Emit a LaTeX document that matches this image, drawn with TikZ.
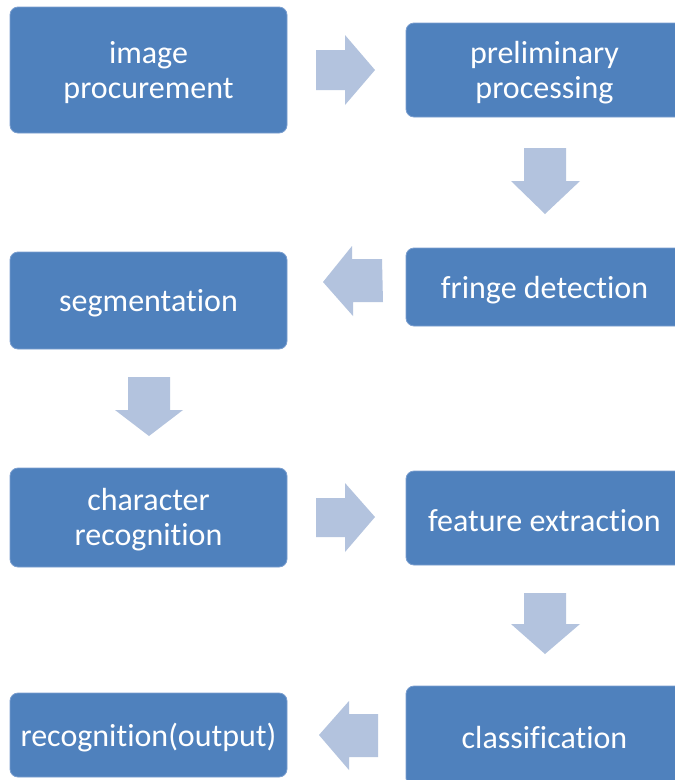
\documentclass[tikz,border=0pt]{standalone}
\usepackage{fontspec}
\setmainfont{Carlito}[RawFeature={-liga;-clig}]
\definecolor{boxblue}{HTML}{4F81BD}
\definecolor{boxedge}{HTML}{7A9ECF}
\definecolor{arrowblue}{HTML}{B3C3DE}
\begin{document}
\begin{tikzpicture}[x=1pt,y=-1pt,
  stepbox/.style={draw=boxedge,line width=0.8pt,fill=boxblue,rounded corners=8pt},
  steptext/.style={text=white,font=\fontsize{32}{35}\selectfont,align=center,inner sep=0pt},
  blockarrow/.style={fill=arrowblue,draw=none}]
\clip (0,0) rectangle (675,780);
\fill[white] (0,0) rectangle (675,780);
\draw[stepbox] (10,7) rectangle (287,133);
\node[steptext] (b1) at (148.5,73) {image\\procurement};
\draw[stepbox] (406,23) rectangle (683,117);
\node[steptext] (b2) at (544.5,73) {preliminary\\processing};
\draw[stepbox] (406,248) rectangle (683,326);
\node[steptext] (b3) at (544.5,290) {fringe detection};
\draw[stepbox] (10,252) rectangle (287,349);
\node[steptext] (b4) at (148.5,303) {segmentation};
\draw[stepbox] (10,468) rectangle (287,567);
\node[steptext] (b5) at (148.5,520) {character\\recognition};
\draw[stepbox] (406,471) rectangle (683,565);
\node[steptext] (b6) at (544.5,520.5) {feature extraction};
\draw[stepbox] (406,686) rectangle (683,786);
\node[steptext] (b7) at (544.5,737.5) {classification};
\draw[stepbox] (10,693) rectangle (287,777);
\node[steptext] (b8) at (148.5,737.5) {recognition(output)};
% block arrows
\fill[blockarrow] (316,50) -- (345,50) -- (345,35) -- (375,70) -- (345,105) -- (345,90) -- (316,90) -- cycle;
\fill[blockarrow] (524,148) -- (566,148) -- (566,181) -- (580,181) -- (545,214) -- (511,181) -- (524,181) -- cycle;
\fill[blockarrow] (382,259) -- (352,259) -- (352,246) -- (323,282) -- (353,316) -- (353,302) -- (383,302) -- cycle;
\fill[blockarrow] (128,377) -- (170,377) -- (170,410) -- (183,410) -- (149,436) -- (115,410) -- (128,410) -- cycle;
\fill[blockarrow] (316,498) -- (345,498) -- (345,483) -- (375,517) -- (345,552) -- (345,537) -- (316,537) -- cycle;
\fill[blockarrow] (524,593) -- (566,593) -- (566,624) -- (580,624) -- (545,654) -- (511,624) -- (524,624) -- cycle;
\fill[blockarrow] (378,714) -- (349,714) -- (349,701) -- (319,735) -- (349,770) -- (349,757) -- (378,757) -- cycle;
\end{tikzpicture}
\end{document}
